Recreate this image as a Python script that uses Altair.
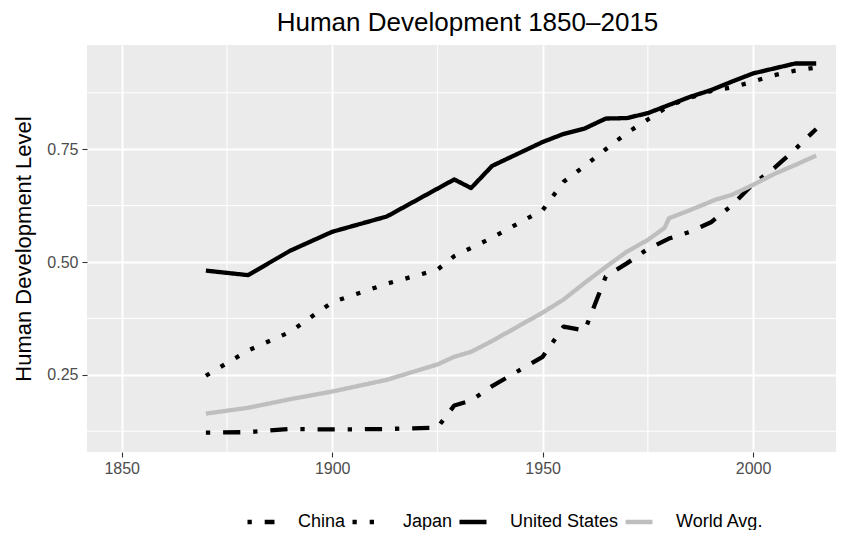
import altair as alt
import pandas as pd

# ---- data ----
series_names = ["China", "Japan", "United States", "World Avg."]

china_years = [1870, 1880, 1890, 1900, 1913, 1925, 1929, 1933, 1938, 1950, 1955, 1960,
               1965, 1970, 1975, 1980, 1985, 1990, 1995, 2000, 2005, 2010, 2015]
china_vals = [0.122, 0.123, 0.130, 0.129, 0.130, 0.133, 0.182, 0.193, 0.225, 0.290, 0.357, 0.348,
              0.468, 0.497, 0.529, 0.552, 0.567, 0.588, 0.626, 0.673, 0.708, 0.750, 0.795]

japan_years = [1870, 1880, 1890, 1900, 1913, 1925, 1929, 1938, 1950, 1955, 1960,
               1965, 1970, 1975, 1980, 1985, 1990, 1995, 2000, 2005, 2010, 2015]
japan_vals = [0.248, 0.304, 0.345, 0.411, 0.452, 0.483, 0.513, 0.554, 0.615, 0.678, 0.713,
              0.750, 0.786, 0.816, 0.846, 0.864, 0.879, 0.887, 0.900, 0.914, 0.924, 0.931]

us_years = [1870, 1880, 1890, 1900, 1913, 1929, 1933, 1938, 1950, 1955, 1960,
            1965, 1970, 1975, 1980, 1985, 1990, 1995, 2000, 2005, 2010, 2015]
us_vals = [0.481, 0.471, 0.525, 0.567, 0.601, 0.683, 0.664, 0.713, 0.766, 0.784, 0.796,
           0.818, 0.819, 0.830, 0.848, 0.866, 0.881, 0.900, 0.918, 0.929, 0.940, 0.940]

world_years = [1870, 1880, 1890, 1900, 1913, 1925, 1929, 1933, 1938, 1950, 1955, 1960,
               1965, 1970, 1975, 1979, 1980, 1985, 1990, 1991, 1995, 2000, 2005, 2010, 2015]
world_vals = [0.164, 0.177, 0.196, 0.213, 0.239, 0.273, 0.290, 0.301, 0.325, 0.388, 0.417, 0.454,
              0.489, 0.523, 0.549, 0.576, 0.597, 0.615, 0.634, 0.638, 0.649, 0.671, 0.695, 0.715, 0.736]

x_major = [1850, 1900, 1950, 2000]
x_minor = [1875, 1925, 1975]
y_major = [0.25, 0.50, 0.75]
y_minor = [0.125, 0.375, 0.625, 0.875]

rows = []
for name, yrs, vals in zip(series_names,
                           [china_years, japan_years, us_years, world_years],
                           [china_vals, japan_vals, us_vals, world_vals]):
    for yr, v in zip(yrs, vals):
        rows.append({"country": name, "year": yr, "hdi": v})
df = pd.DataFrame(rows)

FONT = "Liberation Sans"
LW = 4.3
colors = ["#000000", "#000000", "#000000", "#BEBEBE"]
dashes = [[LW, 3 * LW, 4 * LW, 3 * LW], [LW, 3 * LW], [1, 0], [1, 0]]

xscale = alt.Scale(domain=[1841.75, 2019.7], nice=False, zero=False)
yscale = alt.Scale(domain=[0.079, 0.981], nice=False, zero=False)

xaxis = alt.Axis(values=x_major, format="d", title=None, grid=True,
                 gridColor="white", gridWidth=1.9, domain=False,
                 tickColor="#333333", tickSize=5, tickWidth=1.1,
                 labelPadding=3, labelFont=FONT, labelFontSize=16,
                 labelColor="#4D4D4D")
yaxis = alt.Axis(values=y_major, format=".2f", title="Human Development Level",
                 grid=True, gridColor="white", gridWidth=1.9, domain=False,
                 tickColor="#333333", tickSize=5, tickWidth=1.1,
                 labelPadding=4, labelFont=FONT, labelFontSize=16,
                 labelColor="#4D4D4D", titleFont=FONT, titleFontSize=22,
                 titleFontWeight="normal", titleColor="black",
                 titleAngle=-90, titleX=-57, titleY=203.5,
                 titleBaseline="alphabetic", titleAlign="center")

vminor = alt.Chart(pd.DataFrame({"year": x_minor})).mark_rule(
    color="white", strokeWidth=1.0
).encode(x=alt.X("year:Q", scale=xscale, axis=xaxis))

hminor = alt.Chart(pd.DataFrame({"hdi": y_minor})).mark_rule(
    color="white", strokeWidth=1.0
).encode(y=alt.Y("hdi:Q", scale=yscale, axis=yaxis))

lines = alt.Chart(df).mark_line(strokeWidth=LW, strokeJoin="round", clip=True).encode(
    x=alt.X("year:Q", scale=xscale, axis=xaxis),
    y=alt.Y("hdi:Q", scale=yscale, axis=yaxis),
    color=alt.Color("country:N", title=None,
                    scale=alt.Scale(domain=series_names, range=colors)),
    strokeDash=alt.StrokeDash("country:N", title=None,
                              scale=alt.Scale(domain=series_names, range=dashes)),
)

chart = alt.layer(vminor, hminor, lines).properties(
    width=749,
    height=407,
    title=alt.TitleParams("Human Development 1850\u20132015", font=FONT, fontSize=26,
                          fontWeight="normal", color="black", anchor="middle",
                          dx=6, offset=9),
    autosize=alt.AutoSizeParams(type="none"),
    padding={"left": 79, "top": 37, "right": 0, "bottom": 78},
).configure_view(
    fill="#EBEBEB", strokeWidth=0
).configure_legend(
    orient="none", legendX=158, legendY=461, direction="horizontal",
    symbolType="stroke", symbolSize=729, symbolStrokeWidth=LW,
    labelFont=FONT, labelFontSize=18, labelColor="black",
    labelOffset=21, columnPadding=-3,
)

chart.save("out.html", embed_options={"renderer": "svg", "actions": False})
